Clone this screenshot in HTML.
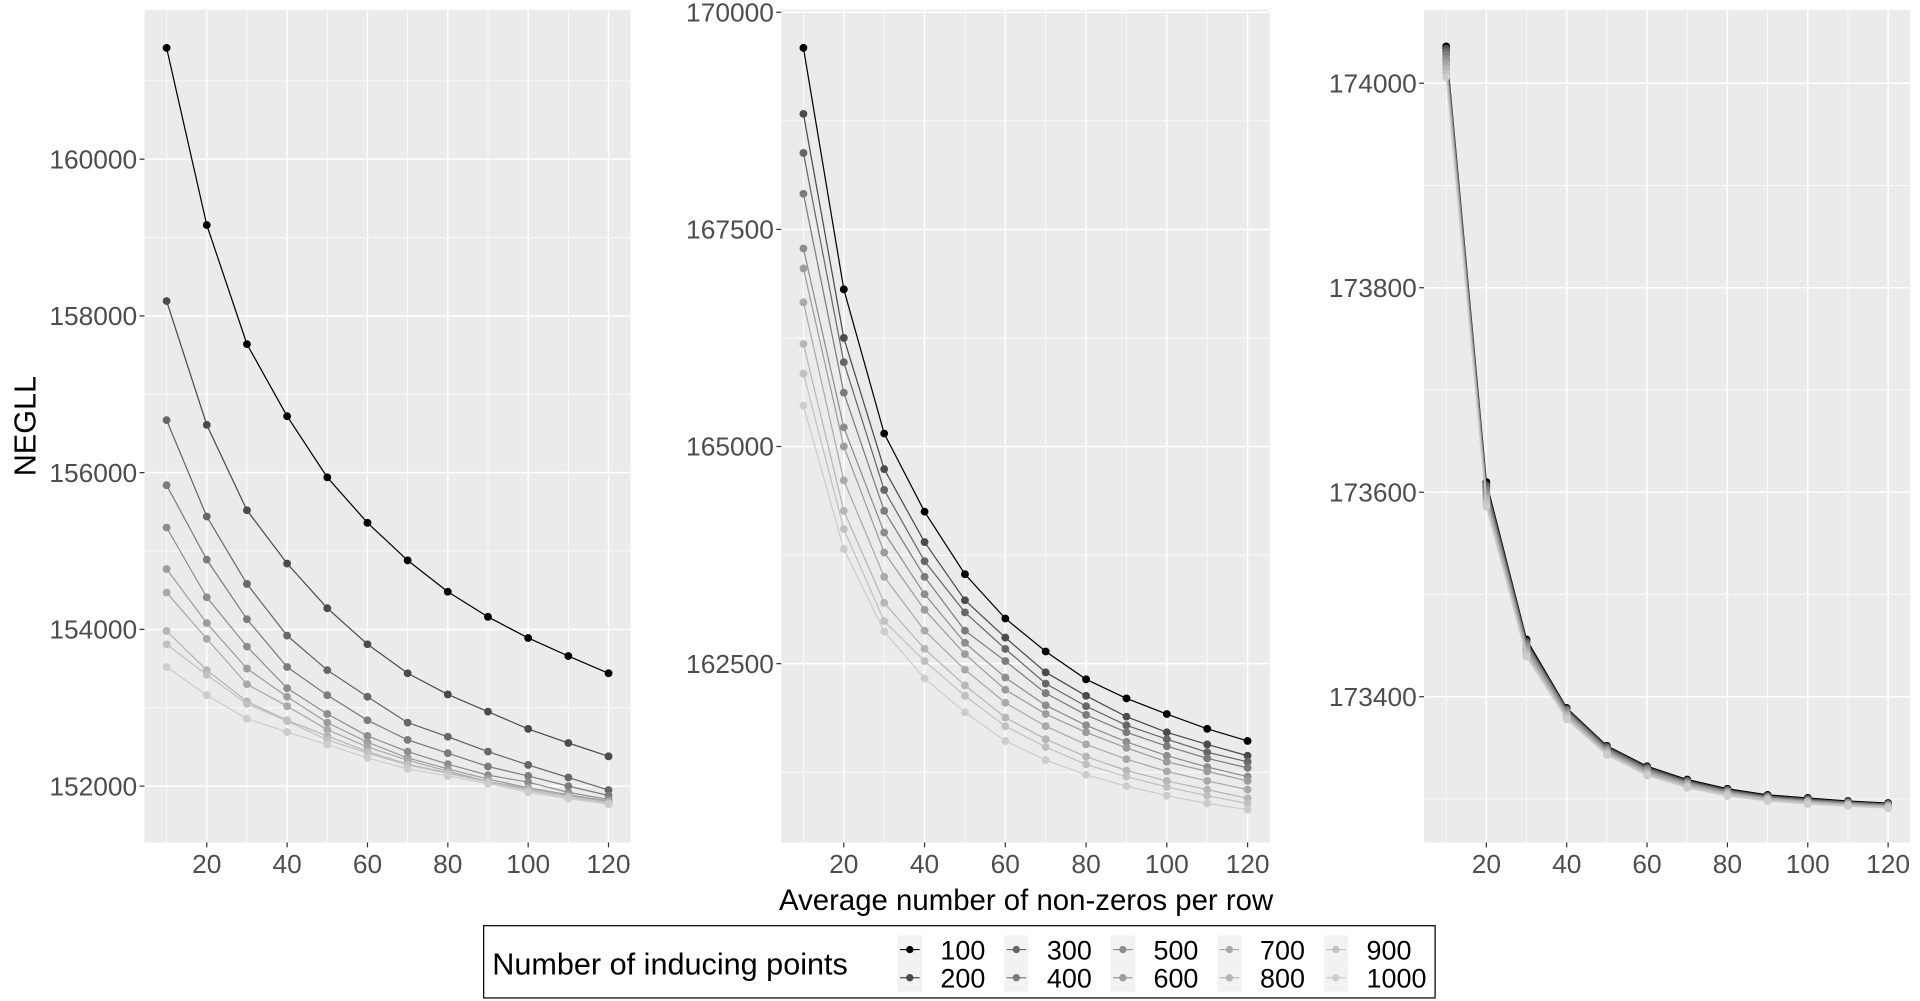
<!DOCTYPE html>
<html><head><meta charset="utf-8"><style>
html,body{margin:0;padding:0;background:#fff;}
svg{display:block;font-family:"Liberation Sans",sans-serif;}
</style></head><body>
<svg id="chart" width="1920" height="1001" viewBox="0 0 1568 817.5" preserveAspectRatio="none" xmlns="http://www.w3.org/2000/svg">
<rect x="0" y="0" width="1568" height="818" fill="#fff"/>
<text x="0" y="0" transform="translate(29,348) rotate(-90)" text-anchor="middle" font-size="25" fill="#000">NEGLL</text>
<text x="838" y="743" text-anchor="middle" font-size="24" fill="#000">Average number of non-zeros per row</text>
<g id="legend">
<rect x="395" y="756" width="777" height="59" fill="#fff" stroke="#000" stroke-width="1"/>
<text x="402" y="796" font-size="25" fill="#000">Number of inducing points</text>
</g>
</svg>
<script>
const xCats=[10,20,30,40,50,60,70,80,90,100,110,120];
const seriesNames=['100','200','300','400','500','600','700','800','900','1000'];
const xTicks=[20,40,60,80,100,120];
const leftTicks=[152000,154000,156000,158000,160000];
const midTicks=[162500,165000,167500,170000];
const rightTicks=[173400,173600,173800,174000];
const left100=[161420,159160,157640,156720,155940,155360,154880,154480,154160,153890,153660,153440];
const left200=[158190,156610,155520,154840,154270,153810,153440,153170,152950,152730,152550,152380];
const left300=[156670,155440,154580,153920,153480,153140,152810,152630,152440,152270,152110,151950];
const left400=[155840,154890,154130,153520,153160,152840,152590,152420,152250,152130,152000,151880];
const left500=[155300,154410,153780,153250,152920,152640,152440,152280,152140,152050,151920,151830];
const left600=[154770,154080,153500,153140,152810,152560,152360,152220,152090,151980,151890,151810];
const left700=[154470,153880,153300,153020,152720,152500,152330,152190,152060,151970,151880,151800];
const left800=[153980,153480,153080,152840,152640,152440,152280,152170,152060,151950,151860,151780];
const left900=[153810,153420,153050,152830,152590,152420,152270,152160,152050,151940,151860,151780];
const left1000=[153520,153160,152860,152690,152530,152360,152220,152130,152030,151920,151840,151770];
const mid100=[169590,166810,165150,164250,163530,163020,162640,162320,162100,161920,161750,161610];
const mid200=[168830,166250,164740,163900,163230,162800,162400,162130,161890,161710,161570,161440];
const mid300=[168380,165970,164500,163680,163090,162670,162270,162010,161790,161630,161480,161370];
const mid400=[167910,165620,164260,163500,162880,162530,162160,161910,161710,161550,161410,161300];
const mid500=[167280,165220,164010,163300,162740,162340,162020,161790,161600,161440,161310,161200];
const mid600=[167050,165000,163780,163120,162610,162200,161920,161710,161530,161370,161260,161150];
const mid700=[166660,164610,163500,162880,162430,162050,161780,161570,161400,161260,161150,161050];
const mid800=[166180,164260,163200,162670,162250,161880,161630,161430,161270,161150,161050,160950];
const mid900=[165840,164050,162990,162530,162130,161780,161540,161340,161200,161080,160980,160890];
const mid1000=[165470,163820,162870,162330,161940,161610,161390,161220,161090,160980,160890,160820];
const right100=[174036,173610,173456,173389,173352,173332,173319,173310,173304,173301,173298,173296];
const right200=[174034,173607,173454,173388,173351,173331,173318,173309,173303,173300,173297,173295];
const right300=[174031,173605,173452,173387,173350,173330,173317,173308,173302,173299,173297,173295];
const right400=[174028,173602,173451,173386,173349,173329,173316,173308,173302,173299,173296,173294];
const right500=[174024,173599,173449,173385,173348,173328,173316,173307,173301,173298,173296,173294];
const right600=[174021,173597,173447,173383,173347,173327,173315,173306,173301,173298,173295,173293];
const right700=[174018,173594,173445,173382,173346,173326,173314,173306,173300,173297,173295,173293];
const right800=[174014,173592,173443,173381,173345,173325,173313,173305,173300,173297,173294,173292];
const right900=[174010,173589,173441,173379,173344,173324,173312,173304,173299,173296,173294,173292];
const right1000=[174006,173586,173439,173378,173343,173323,173311,173303,173298,173295,173293,173291];
const colors=['#000000','#4b4b4b','#676767','#7c7c7c','#8d8d8d','#9c9c9c','#a9a9a9','#b6b6b6','#c1c1c1','#cccccc'];

const NS='http://www.w3.org/2000/svg';
const svg=document.getElementById('chart');
function mk(tag,attrs,parent){const e=document.createElementNS(NS,tag);for(const k in attrs)e.setAttribute(k,attrs[k]);(parent||svg).appendChild(e);return e;}
const PT=8,PB=688;
function panel(name,x0,x1,ticks,refA,refB,series){
  const g=mk('g',{});
  
  
  const ys=v=>refA[1]+(v-refA[0])*(refB[1]-refA[1])/(refB[0]-refA[0]);
  const xmin=4.5,xmax=125.5;
  const xs=v=>x0+(v-xmin)/(xmax-xmin)*(x1-x0);
  const bg=mk('rect',{x:x0,y:PT,width:x1-x0,height:PB-PT,fill:'#ebebeb'},g);
  
  
  const step=ticks[1]-ticks[0];
  const yMinors=[ticks[0]-step/2].concat(ticks.map(t=>t+step/2));
  yMinors.forEach(t=>{const y=ys(t);if(y>PT&&y<PB)mk('line',{x1:x0,x2:x1,y1:y,y2:y,stroke:'#fff','stroke-width':0.6},g);});
  [10,30,50,70,90,110].forEach(t=>{const x=xs(t);mk('line',{x1:x,x2:x,y1:PT,y2:PB,stroke:'#fff','stroke-width':0.6},g);});
  ticks.forEach(t=>{const y=ys(t);if(y>=PT&&y<=PB){
    const l=mk('line',{x1:x0,x2:x1,y1:y,y2:y,stroke:'#fff','stroke-width':1.2},g);
    
    
    mk('line',{x1:x0-4,x2:x0,y1:y,y2:y,stroke:'#333','stroke-width':1},g);
    const tx=mk('text',{x:x0-6,y:y+7.5,'text-anchor':'end','font-size':21.5,fill:'#4d4d4d'},g);
    tx.textContent=t;
    
    
  }});
  xTicks.forEach(t=>{const x=xs(t);
    const l=mk('line',{x1:x,x2:x,y1:PT,y2:PB,stroke:'#fff','stroke-width':1.2},g);
    
    
    mk('line',{x1:x,x2:x,y1:PB,y2:PB+4,stroke:'#333','stroke-width':1},g);
    const tx=mk('text',{x:x,y:PB+25,'text-anchor':'middle','font-size':21.5,fill:'#4d4d4d'},g);
    tx.textContent=t;
    
    
  });
  for(let s=0;s<series.length;s++){
    const vals=series[s];
    const sg=mk('g',{},g);
    
    
    const pts=vals.map((v,i)=>xs(xCats[i]).toFixed(2)+','+ys(v).toFixed(2)).join(' ');
    const pl=mk('polyline',{points:pts,fill:'none',stroke:colors[s],'stroke-width':1},sg);
    
    
    vals.forEach((v,i)=>{
      const c=mk('circle',{cx:xs(xCats[i]),cy:ys(v),r:3.2,fill:colors[s]},sg);
      
      
    });
  }
}
panel('panel-left',118,515,leftTicks,[160000,130],[152000,642],
  [left100,left200,left300,left400,left500,left600,left700,left800,left900,left1000]);
panel('panel-middle',638,1037,midTicks,[170000,10],[162500,542],
  [mid100,mid200,mid300,mid400,mid500,mid600,mid700,mid800,mid900,mid1000]);
panel('panel-right',1163,1560,rightTicks,[174000,68],[173400,569],
  [right100,right200,right300,right400,right500,right600,right700,right800,right900,right1000]);

const lg=document.getElementById('legend');
seriesNames.forEach((n,i)=>{
  const col=Math.floor(i/2),row=i%2;
  const kx=733+col*87, ky=764+row*23;
  const e=mk('g',{},lg);
  
  
  mk('rect',{x:kx,y:ky,width:20,height:23,fill:'#f2f2f2'},e);
  mk('line',{x1:kx+2,x2:kx+18,y1:ky+11.5,y2:ky+11.5,stroke:colors[i],'stroke-width':1},e);
  mk('circle',{cx:kx+10,cy:ky+11.5,r:3,fill:colors[i]},e);
  const t=mk('text',{x:kx+35,y:ky+19.5,'font-size':22,fill:'#000'},e);
  t.textContent=n;
});
</script>
</body></html>
